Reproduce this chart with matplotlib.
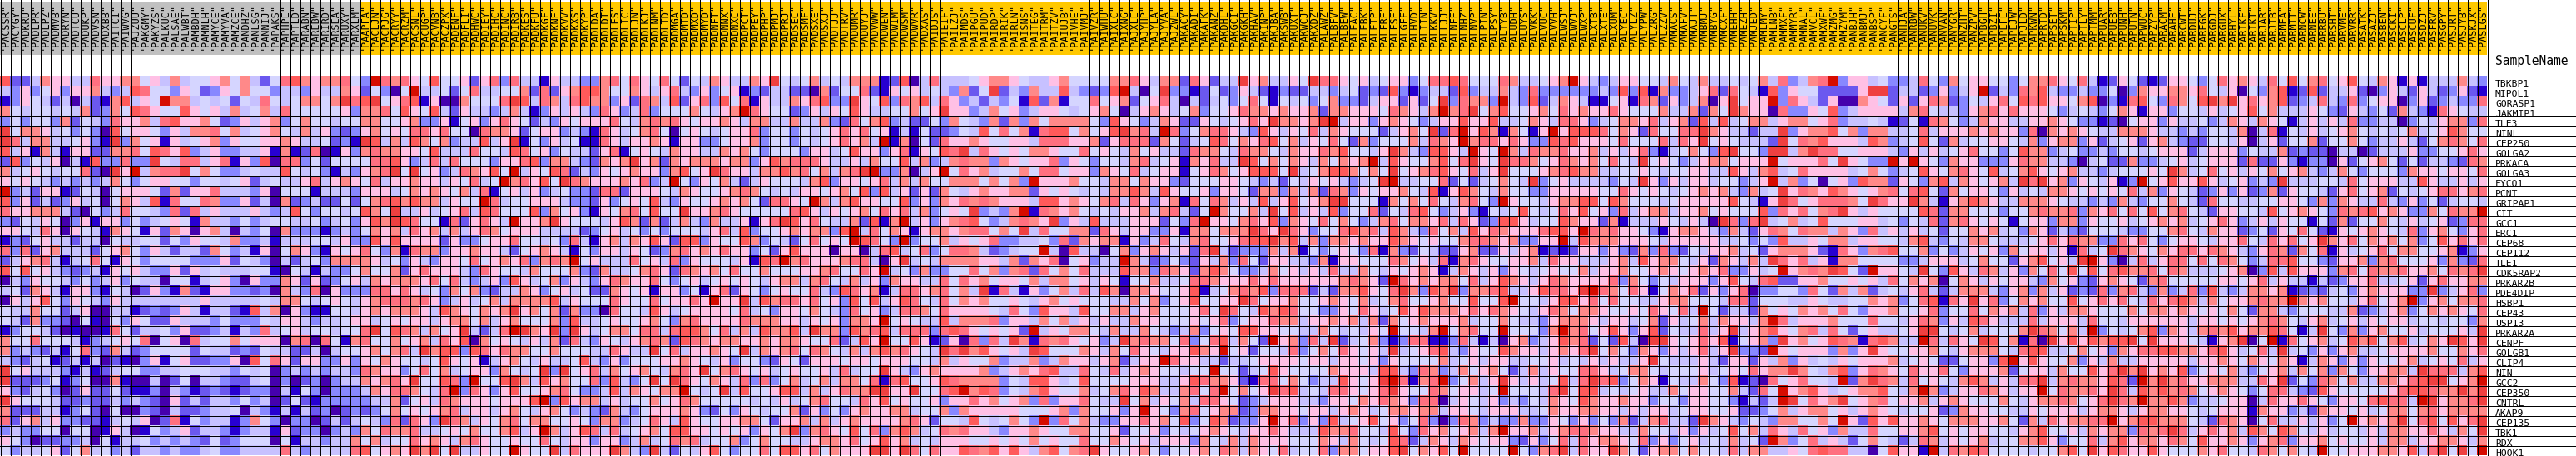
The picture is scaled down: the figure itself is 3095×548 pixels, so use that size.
#!/usr/bin/env python

"""
Heat map of centrosome / golgi genes across samples, drawn cell by cell.
Cell levels are read off the picture, one string per gene, one panel per block of samples.
"""

import matplotlib
matplotlib.use('Agg')
import numpy as np
import matplotlib.pyplot as plt
from matplotlib.colors import ListedColormap

LEVEL_COLORS = ['#4500AD', '#2700D1', '#6B58EF', '#8888FF', '#C7C1FF', '#D5D5FF',
                '#FFC0E5', '#FF8989', '#FF7080', '#FF5A5A', '#EF4040', '#D60C00']
GROUP_COLORS = ['#C0C0C0', '#FFC800']
N_GRAY = 36

GENES = ['TBKBP1', 'MIPOL1', 'GORASP1', 'JAKMIP1', 'TLE3', 'NINL', 'CEP250', 'GOLGA2', 'PRKACA',
         'GOLGA3', 'FYCO1', 'PCNT', 'GRIPAP1', 'CIT', 'GCC1', 'ERC1', 'CEP68', 'CEP112', 'TLE1',
         'CDK5RAP2', 'PRKAR2B', 'PDE4DIP', 'HSBP1', 'CEP43', 'USP13', 'PRKAR2A', 'CENPF', 'GOLGB1',
         'CLIP4', 'NIN', 'GCC2', 'CEP350', 'CNTRL', 'AKAP9', 'CEP135', 'TBK1', 'RDX', 'HOOK1']

SAMPLES = ('PACSSR PACYGY PADKRU PADLPR PADLPZ PADMVB PADRYN PADTCU PADUKP PADVSN PADXBB PAITCI PAIWVG '
           'PAJZUU PAKGMY PAKYZS PALKUC PALSAE PALWBT PAMBDH PAMNLH PAMYCE PAMYVA PAMZCE PANDHZ PANLSG '
           'PANNIJ PAPAKS PAPHPE PAPTLD PARABN PAREBW PARIRD PARSEA PARUXY PARXLM PAAPFA PACLJN PACPJG '
           'PACRYY PACRZM PACSNL PACUGP PACVNB PACZPX PADENF PADFLI PADHWC PADIEY PADIHC PADINC PADIRB '
           'PADKES PADKFU PADKGF PADKNE PADKVV PADKXS PADKYP PADLDA PADLDT PADLES PADLIC PADLJN PADLKJ '
           'PADLNM PADLTD PADMGA PADMTD PADMXD PADMYD PADNFT PADNNX PADNXC PADPCT PADPEY PADPHP PADPMJ '
           'PADPRJ PADSEC PADSMF PADSXE PADSXJ PADTJJ PADTRV PADUMR PADUYJ PADVWW PADWEN PADWIM PADWSM '
           'PADWVR PADXAS PAIDJS PAIEIF PAILZJ PAIMDS PAIPGU PAIPUD PAIRDP PAIRIK PAIRLN PAISNS PAITEG '
           'PAITRM PAITZV PAIUJB PAIVHE PAIVMJ PAIVZR PAIWHU PAIXLC PAIXNG PAJXLE PAJYHP PAJYLA PAJYVA '
           'PAJZWL PAKACY PAKADI PAKAFK PAKANZ PAKDHL PAKGCI PAKGKH PAKHAV PAKINP PAKJBA PAKSWB PAKUXT '
           'PAKWCJ PAKXDZ PALAWZ PALBFV PALBEW PALEAC PALEBK PALETP PALFRE PALFSE PALGFF PALHVD PALIIN '
           'PALKKV PALLJJ PALNFE PALNHZ PALNVP PALPIN PALPSY PALTYB PALUDH PALUYS PALVKK PALVUC PALVVH '
           'PALWSJ PALWVJ PALWXP PALXTB PALXTE PALXUM PALYEC PALYLZ PALYPW PALZRG PALZZV PAMACS PAMAFV '
           'PAMAJT PAMBMJ PAMBYG PAMCXF PAMEHH PAMEZH PAMJED PAMLMY PAMLNB PAMMXF PAMMYR PAMNAL PAMVCL '
           'PAMXWF PAMZMG PAMZYM PANBJH PANBMJ PANBSP PANCYF PANGTS PANHJA PANRBW PANUKV PANUVK PANVAN '
           'PANYGR PANZHT PANZPV PAPBGH PAPBZI PAPEFE PAPEJW PAPJLD PAPKWN PAPRTD PAPSET PAPSKM PAPTIP '
           'PAPTLY PAPTMM PAPUAR PAPUEB PAPUNH PAPUTN PAPWUC PAPZYP PARACM PARAHE PARCWT PARDUJ PAREGK '
           'PARGDJ PARGUX PARHYL PARIKF PARIKT PARJAR PARJTB PARMEA PARMTT PARNCW PARNEE PARRBU PARSHT '
           'PARVME PARVRR PASATK PASAZJ PASBEN PASCKI PASCLP PASCUF PASDZJ PASFRV PASGPY PASJRT PASJYB '
           'PASKJX PASLGS').split()

# one symbol per cell, index into LEVEL_COLORS (a=10, b=11)
PANEL_1 = [
    '9 2 2 4 7 6 6 4 4 8 6 6 7 7 5 6 4 7 4 5 5 6 7 5 7 4 2 5 8 9 7 6',
    '4 3 6 3 5 6 3 6 6 7 4 3 4 9 8 5 5 3 6 5 2 3 6 5 7 5 5 3 4 4 3 6',
    '1 3 6 5 4 2 4 0 4 2 1 7 9 4 6 5 b 7 7 4 5 4 5 2 5 4 8 5 4 5 7 7',
    '7 5 4 5 5 4 5 4 7 2 3 7 5 9 8 6 5 5 9 6 5 6 4 7 4 5 7 4 8 5 5 5',
    '3 5 3 5 5 3 7 2 5 4 3 8 6 6 7 4 8 9 6 6 7 5 2 3 6 4 6 7 3 5 7 5',
    'a 5 7 7 6 4 5 3 5 3 0 9 5 6 6 5 3 6 4 7 7 8 5 7 4 5 6 7 5 4 7 4',
    'a 8 4 7 7 4 4 5 6 3 1 a 3 7 5 6 1 6 4 5 6 7 3 6 5 5 6 6 7 6 4 4',
    '9 4 6 1 7 4 1 6 6 2 2 7 7 8 5 9 8 6 9 3 4 6 3 3 4 4 6 1 7 1 2 8',
    '2 9 3 5 4 6 0 4 1 9 3 3 8 3 3 a 5 4 8 8 4 6 8 1 6 3 9 0 8 8 3 5',
    '7 4 5 6 5 4 5 5 8 2 0 a 6 b 4 7 8 8 a 5 7 5 3 3 4 5 4 4 9 5 4 5',
    '6 5 6 5 4 3 4 3 4 3 4 7 5 3 5 6 6 5 5 3 5 5 4 5 6 2 4 5 4 4 6 8',
    'b 3 4 2 6 6 1 2 5 4 0 5 6 6 6 5 2 7 2 6 6 8 4 4 4 3 6 0 5 5 5 1',
    '9 3 6 2 4 2 3 6 4 5 0 5 7 6 4 9 1 8 5 5 8 7 3 3 6 2 4 0 7 2 3 4',
    '8 6 6 7 7 7 4 2 0 5 3 4 8 5 5 4 3 8 2 8 4 6 4 4 4 6 4 3 4 9 5 3',
    '3 2 5 4 6 5 0 3 6 1 6 6 3 5 3 4 5 6 5 1 7 4 4 3 5 3 4 5 5 4 4 5',
    '6 6 5 4 8 6 0 6 5 4 1 7 6 5 1 6 2 7 6 0 6 7 4 0 4 3 5 0 7 3 3 3',
    '1 3 2 5 6 4 4 2 4 4 0 5 4 4 5 5 2 5 3 6 5 5 4 7 3 3 4 1 4 4 4 5',
    '8 3 8 2 6 7 4 4 4 2 5 6 7 5 3 6 4 2 4 4 2 7 5 3 4 1 6 0 5 7 6 3',
    '2 4 6 7 8 4 1 4 5 8 5 1 6 5 3 5 5 5 5 3 3 3 6 2 5 4 3 0 4 2 4 5',
    '9 5 9 5 6 4 3 2 3 4 1 6 5 6 4 3 3 6 2 6 4 5 4 4 4 5 5 1 0 5 4 1',
    '0 4 3 6 5 5 4 3 5 3 4 6 3 5 4 4 0 5 5 1 4 5 6 3 0 6 3 3 7 6 2 6',
    '4 5 2 7 6 4 1 6 6 3 1 5 4 0 2 6 3 1 7 2 1 6 6 3 3 2 3 0 7 4 3 8',
    '0 6 4 6 9 5 3 6 5 4 3 6 4 4 4 4 4 4 4 4 6 4 4 4 4 4 5 4 7 7 5 4',
    '5 4 4 7 5 5 2 4 6 0 0 4 4 1 2 3 2 3 6 4 1 4 4 2 1 9 4 7 0 6 3 1',
    '5 4 2 7 3 3 2 0 5 1 0 5 3 6 5 2 2 6 4 4 4 3 5 3 3 3 5 4 6 6 4 3',
    '1 3 5 5 4 2 0 1 0 0 1 8 5 2 4 4 5 3 6 2 2 3 4 1 4 3 8 4 5 6 4 5',
    '7 5 5 8 5 5 5 4 1 3 4 5 6 5 8 0 5 6 0 8 4 5 5 7 5 6 6 6 0 7 8 0',
    '7 3 4 3 2 4 1 5 8 3 2 7 4 2 3 5 5 5 5 2 5 4 4 2 3 2 5 4 4 2 2 4',
    '4 3 2 4 5 1 2 4 1 4 0 2 1 0 3 6 1 5 6 2 2 3 3 6 0 9 5 8 6 2 6 6',
    'a 5 6 4 4 4 3 1 4 1 2 4 5 5 3 3 4 4 5 5 5 4 4 3 5 4 5 0 3 4 3 4',
    'a 2 2 2 3 5 1 3 5 0 0 7 1 0 0 4 0 2 5 0 4 4 3 2 2 4 5 0 3 0 2 3',
    '6 3 2 4 5 3 0 2 6 2 2 5 2 1 1 3 0 4 3 1 2 3 2 1 2 3 3 0 4 1 5 3',
    'a 6 5 5 5 4 2 2 3 2 2 4 3 4 3 2 0 6 2 4 2 4 4 3 5 3 4 0 2 5 2 1',
    '7 2 2 2 4 4 1 3 5 2 0 5 0 0 3 2 0 4 2 2 3 4 4 5 0 4 3 1 4 1 4 2',
    '8 2 6 7 4 6 3 3 2 2 1 4 5 4 6 0 2 8 1 5 3 4 4 1 3 7 5 3 0 3 3 0',
    '3 4 3 3 5 5 0 5 5 0 1 6 4 0 1 5 3 4 6 2 4 4 3 1 3 4 4 1 6 2 3 3',
    '6 5 3 0 2 2 3 3 4 0 5 1 4 4 5 3 4 3 4 3 2 5 2 3 5 5 5 0 5 1 4 4',
    '5 3 4 4 5 6 2 5 7 4 5 3 4 2 4 4 3 4 3 3 4 5 3 3 4 4 4 4 8 4 3 4',
]
PANEL_2 = [
    '7 7 8 5 3 b 8 7 8 6 5 9 5 5 6 2 6 8 3 8 4 4 1 6 4 4 3 3 7 8 5 8',
    '4 4 7 6 2 5 3 0 5 b 4 4 5 2 5 8 4 4 5 5 7 2 8 2 6 7 9 9 7 5 5 7',
    '5 7 a 8 9 a 5 6 8 9 1 6 0 0 7 5 5 5 8 a 9 4 8 7 4 8 9 7 7 3 6 2',
    '5 5 6 3 7 7 8 5 9 6 5 9 4 2 6 4 4 3 4 7 4 1 3 6 4 6 4 3 8 6 3 4',
    '5 4 5 5 7 7 5 5 6 7 3 3 6 1 5 6 3 6 8 6 5 2 4 3 6 5 6 6 6 8 5 4',
    '6 3 2 3 6 7 5 6 5 8 8 6 8 5 5 0 8 7 7 6 2 5 6 6 3 4 3 1 8 6 4 5',
    '5 2 3 1 a 9 4 7 4 9 7 5 7 3 4 4 9 4 6 a 1 5 3 6 4 5 1 1 8 6 4 6',
    '0 1 6 3 7 8 7 7 6 6 5 9 4 4 4 8 5 5 4 9 8 5 6 3 5 4 4 2 6 8 1 5',
    '2 5 5 5 5 8 8 9 6 3 4 8 4 8 5 5 5 3 6 6 8 9 3 7 7 4 3 2 7 6 7 a',
    '3 1 4 3 6 7 8 a 5 a 5 6 3 4 8 7 6 9 5 b 4 6 5 9 8 2 4 3 6 5 6 7',
    '4 6 7 6 5 8 4 6 6 7 6 6 4 6 5 8 4 5 b 7 8 6 9 5 a 8 7 6 6 6 7 6',
    '4 4 4 3 6 6 6 4 5 7 6 7 6 5 7 4 8 1 5 6 4 6 3 4 5 3 3 2 8 8 2 6',
    '2 2 5 2 5 7 8 9 7 9 7 7 4 6 5 5 b 8 4 5 5 6 6 6 4 3 3 2 6 3 5 6',
    '5 5 4 5 9 7 5 a 4 4 6 4 5 6 8 4 9 8 5 5 5 9 3 7 5 6 3 1 6 5 7 8',
    '3 4 5 3 6 9 7 a 9 8 5 5 1 8 2 6 8 6 4 b 6 6 7 a 6 5 5 5 4 6 9 7',
    '1 3 4 3 5 7 6 7 4 8 6 7 4 7 4 6 8 7 5 6 6 6 4 4 4 4 2 3 5 6 4 5',
    '5 4 6 3 3 9 6 9 6 6 6 6 2 6 3 3 5 6 6 8 5 5 4 5 3 8 4 1 6 7 4 7',
    '1 6 5 6 8 5 3 7 1 8 7 7 3 6 6 7 6 6 4 2 5 6 7 6 4 1 5 3 6 6 4 6',
    '3 7 7 7 7 6 4 5 3 6 4 3 6 6 5 8 5 6 7 6 8 3 7 8 7 b 5 6 4 4 4 8',
    '4 3 3 5 7 5 5 7 2 6 8 6 6 6 4 3 8 6 5 5 4 7 5 5 5 7 3 2 7 4 4 5',
    '2 3 5 6 4 7 6 7 7 7 6 8 5 8 4 3 4 6 3 9 6 4 5 7 3 6 4 3 6 8 7 6',
    '0 6 3 3 3 8 8 6 8 6 4 5 3 7 5 7 3 2 4 4 7 6 3 5 6 4 5 2 2 7 6 5',
    '5 6 5 4 6 7 8 8 8 7 8 6 3 4 6 4 5 7 4 7 7 7 7 9 4 6 5 5 5 8 6 5',
    '1 5 5 4 6 7 6 7 7 7 6 4 9 7 6 5 7 6 7 a 6 7 5 7 2 7 3 3 0 8 5 5',
    '4 4 5 6 6 4 5 6 5 6 6 4 6 7 7 5 7 4 6 7 5 5 5 7 3 9 4 4 5 6 5 5',
    '5 4 5 5 8 a 5 9 8 7 4 7 5 6 a 4 2 4 8 b a 7 6 a 3 a 6 4 5 7 7 5',
    '8 5 1 7 8 5 5 7 5 6 7 4 8 6 9 0 7 5 6 5 4 6 4 7 2 8 4 3 6 5 4 6',
    '0 4 5 5 6 7 5 7 8 4 a 7 9 9 3 9 8 6 8 7 7 5 5 7 5 5 5 4 4 8 6 4',
    '3 3 6 3 6 5 7 6 5 5 4 5 9 6 5 6 1 4 6 7 5 4 6 4 4 5 9 4 3 6 3 5',
    '3 4 4 3 8 7 6 6 3 5 8 5 7 4 5 6 6 3 7 5 4 5 a 3 a 5 6 8 4 7 5 6',
    '0 3 4 4 7 6 7 8 6 a 5 5 9 8 3 b 5 5 9 a 7 4 9 6 7 5 5 8 3 9 4 3',
    '0 3 3 3 4 7 6 8 8 7 5 4 8 b 3 8 6 3 6 9 5 5 6 7 8 5 3 3 4 9 4 7',
    '3 3 3 3 3 4 4 7 2 5 6 4 8 7 6 6 6 5 6 6 6 9 b 3 9 6 7 7 4 6 4 5',
    '3 0 2 3 2 3 5 7 5 6 5 6 7 8 4 6 6 4 6 7 5 4 6 7 5 3 4 3 2 7 4 3',
    '2 4 2 4 5 4 3 8 2 8 6 3 a 8 7 4 6 5 7 8 5 7 7 5 5 6 5 3 7 7 3 4',
    '0 3 4 3 7 5 8 7 7 8 4 4 5 6 5 7 5 5 7 9 4 6 b 7 4 6 9 8 4 8 4 5',
    '3 4 4 7 5 7 4 5 5 8 6 7 6 4 7 8 6 5 5 6 5 5 8 5 4 6 6 3 6 6 3 4',
    '5 4 4 8 9 5 6 7 6 a 7 a 5 a 4 4 6 5 5 b 6 5 5 a 4 8 6 6 6 a 7 4',
]
PANEL_3 = [
    '6 5 8 5 2 5 4 7 6 4 4 7 6 a 5 4 5 7 4 5 4 7 7 7 1 2 9 0 4 8 4 4',
    '6 4 6 8 4 3 6 3 5 6 1 3 2 4 4 2 2 0 7 2 5 5 8 2 1 6 5 6 4 5 4 3',
    '8 7 4 9 2 6 8 3 9 5 8 1 6 4 4 7 6 8 9 3 3 a 6 5 9 3 8 7 9 4 8 6',
    '8 3 5 5 5 7 5 4 6 7 b 8 6 5 5 2 3 6 4 6 5 9 6 4 4 5 5 7 5 6 a 6',
    '7 8 7 8 6 5 6 6 7 6 4 7 7 4 4 7 4 4 7 3 2 8 5 7 9 3 4 2 2 5 3 7',
    '7 8 5 0 5 6 5 4 5 6 6 8 3 5 5 3 5 4 5 6 8 6 8 5 6 1 4 1 5 2 2 3',
    '6 7 6 1 6 6 3 3 5 6 6 7 3 5 5 3 5 4 5 6 8 6 7 4 b 1 7 0 5 2 8 6',
    '6 5 4 7 6 6 4 4 7 6 7 5 3 5 5 5 3 6 6 4 5 9 6 6 3 6 8 1 6 5 9 8',
    '6 7 2 7 6 7 7 7 6 7 7 3 6 9 7 8 8 8 6 4 4 6 4 7 5 5 9 4 7 3 4 7',
    '6 6 3 7 9 5 6 a 8 6 6 4 7 7 9 7 8 5 7 4 7 8 a b 3 3 7 0 4 6 b 5',
    '8 3 4 b 5 3 6 5 7 4 2 4 6 5 5 5 4 7 9 3 6 6 5 6 8 4 7 4 7 5 5 7',
    '6 6 5 4 7 6 5 5 6 7 8 7 5 4 5 4 6 6 5 6 7 5 9 3 9 4 6 2 6 2 7 5',
    '5 9 4 3 6 5 5 6 7 6 7 5 2 8 8 6 5 b 7 4 7 9 6 6 5 5 9 3 6 3 7 6',
    '5 9 5 5 a 6 6 7 8 6 5 5 5 5 5 8 9 6 4 6 5 6 7 5 8 6 8 4 7 3 5 6',
    '2 7 2 4 7 4 3 7 4 4 6 1 6 8 a 9 6 8 5 4 4 7 2 9 1 7 b 4 6 3 6 7',
    '3 5 3 5 5 5 4 6 8 4 9 3 5 5 6 7 6 7 7 3 9 b 4 8 5 7 6 1 6 7 7 6',
    '6 9 6 2 9 9 3 6 5 5 9 7 3 5 4 2 5 8 5 6 5 b 9 8 5 3 b 3 5 5 7 4',
    '5 2 3 7 8 6 7 6 8 6 6 3 5 2 6 9 6 6 6 0 6 6 0 4 8 9 4 5 8 3 5 8',
    '5 6 4 8 3 6 5 5 5 4 6 1 9 8 b 7 8 6 6 6 7 8 8 4 0 6 a 4 5 4 7 7',
    '7 8 6 2 8 7 6 7 5 8 5 5 7 5 5 5 6 6 7 8 5 5 8 6 b 4 5 3 7 3 3 5',
    '6 8 5 3 5 6 4 5 6 5 6 5 4 6 7 7 4 7 8 5 4 7 4 6 3 7 6 6 4 4 8 5',
    '6 1 6 6 3 5 1 6 8 2 6 5 3 5 6 5 5 8 4 3 9 8 6 7 1 4 8 8 6 7 8 5',
    '5 8 5 6 6 8 6 b 6 6 a 4 9 7 8 8 6 8 5 6 3 9 5 9 4 6 9 8 5 4 8 5',
    '4 9 6 4 5 6 6 6 6 5 8 4 5 3 6 6 5 7 5 4 3 8 5 6 3 4 8 8 7 5 8 6',
    '6 7 5 3 7 8 6 6 6 6 8 7 7 7 6 6 4 6 5 6 3 7 7 6 b 5 6 5 4 4 9 4',
    '8 8 4 8 9 9 7 5 8 4 7 4 9 7 7 9 4 a 7 7 3 9 7 8 9 4 8 8 8 3 8 9',
    '7 8 7 2 9 8 7 6 7 7 6 6 7 6 7 7 6 5 5 8 2 4 9 6 b 5 5 9 6 1 2 6',
    '4 a 5 8 4 6 6 7 6 5 a 4 7 6 7 8 5 8 7 5 4 7 4 7 9 7 8 6 5 4 a 8',
    '5 5 6 6 7 6 5 4 6 3 5 5 3 2 6 5 2 6 6 6 5 6 6 5 6 6 6 5 5 4 7 4',
    '7 5 4 7 8 6 a 5 7 8 6 5 6 4 5 6 5 5 6 4 8 4 5 5 a 6 4 3 6 7 6 6',
    '5 a 5 a 8 6 5 7 6 4 8 3 8 3 5 7 4 5 7 4 7 7 5 8 1 8 9 5 5 6 9 8',
    '6 5 7 7 b 5 4 5 a 4 9 5 5 6 9 9 4 7 4 6 8 7 7 a a 6 6 a 5 5 8 9',
    '5 7 5 6 8 7 5 5 5 5 5 4 5 4 6 4 5 7 8 5 5 4 8 6 9 5 6 5 5 6 3 6',
    '5 6 6 6 7 6 3 2 5 3 6 5 4 5 5 7 2 6 3 5 3 6 7 6 6 7 7 4 5 5 7 3',
    '5 8 6 4 9 6 5 5 6 6 7 7 5 2 6 6 7 4 7 4 6 7 6 6 6 6 7 8 6 2 5 5',
    '6 7 5 9 9 6 6 5 6 5 6 3 6 5 7 a 3 7 8 6 5 9 5 8 3 7 9 7 4 5 8 7',
    '7 4 5 8 7 8 4 5 5 7 3 5 7 5 5 4 4 6 7 7 6 8 5 6 9 6 7 4 5 4 6 6',
    '3 a 4 2 5 4 6 9 5 3 5 5 8 5 9 9 6 8 5 7 6 6 6 a a 6 a 8 5 8 6 6',
]
PANEL_4 = [
    '4 5 6 7 7 6 5 4 4 6 7 5 5 5 5 7 7 8 6 4 7 7 2 8 6 2 4 4 a 6 7 4',
    '7 2 5 a 2 4 3 7 4 4 9 4 3 2 3 9 b 4 0 5 a 3 3 1 2 5 2 3 6 4 2 1',
    '3 4 2 4 3 5 1 9 2 7 1 5 5 8 5 6 7 2 5 6 8 4 0 4 2 4 5 3 5 8 5 1',
    '6 3 4 7 5 6 3 4 6 6 5 4 5 6 7 5 0 4 6 7 6 4 5 7 3 5 5 6 8 7 7 6',
    '5 4 3 7 2 7 3 7 5 7 7 7 7 5 3 9 6 5 3 4 7 6 2 2 6 5 4 5 6 8 6 a',
    '5 4 9 5 8 5 7 1 8 9 9 5 7 5 6 9 a 7 8 4 b 8 3 5 7 8 8 6 4 3 9 6',
    '6 7 6 5 5 6 6 4 8 8 8 6 6 7 2 6 8 8 8 2 7 5 2 4 5 9 8 5 7 6 8 9',
    'a 4 8 6 5 6 5 7 7 6 5 5 8 5 6 5 4 7 5 6 4 4 2 8 7 7 5 4 8 7 7 5',
    '8 7 7 3 7 6 5 6 6 8 3 6 5 3 5 5 4 7 8 4 5 6 1 7 6 8 4 4 a 9 5 7',
    '8 6 7 4 5 5 7 5 8 8 5 6 6 3 7 6 5 8 4 5 6 6 1 5 6 8 7 5 6 9 9 9',
    '7 7 5 7 5 7 3 b 6 6 6 7 5 5 4 7 7 5 7 6 6 3 2 5 5 5 6 6 5 4 3 4',
    '4 6 7 6 6 7 7 2 6 5 6 5 4 5 4 7 7 9 7 4 9 6 5 5 6 3 6 6 5 2 7 7',
    '8 7 8 7 6 6 6 4 9 9 6 7 6 5 7 8 4 8 6 3 6 7 1 8 5 8 7 4 6 4 9 4',
    '5 a 3 4 3 7 b 1 8 7 6 7 5 4 5 4 6 6 7 4 7 8 4 2 5 b 7 5 5 7 4 a',
    '8 9 5 3 4 7 8 7 6 a 3 6 4 9 4 4 4 6 6 6 2 5 3 8 b 6 6 5 7 8 6 9',
    '7 8 8 5 7 5 a 4 8 5 5 7 7 2 8 6 4 6 6 3 3 6 1 7 7 5 7 7 7 a 8 6',
    '6 5 6 8 3 3 4 4 5 3 8 2 7 6 7 7 1 6 3 4 8 5 4 7 8 5 5 6 8 9 9 a',
    '8 7 4 2 3 4 5 5 b 4 0 9 4 4 0 5 7 3 6 7 6 4 6 2 8 a 4 2 3 3 3 7',
    '7 7 6 6 4 7 2 7 6 8 0 5 6 3 4 4 b 7 4 2 3 5 3 2 6 4 7 3 8 5 2 6',
    '5 8 5 7 3 7 8 2 8 5 7 5 8 4 4 4 9 7 7 3 8 7 6 2 7 9 7 5 3 3 4 7',
    '8 6 7 5 6 6 5 7 4 7 7 5 6 4 6 5 1 5 5 7 4 4 5 8 8 7 6 6 6 8 6 8',
    '7 4 a 1 8 4 1 6 3 5 7 4 8 4 9 7 0 7 7 6 5 5 6 9 1 4 5 7 8 7 9 3',
    '7 6 7 5 5 6 5 4 6 7 5 6 5 5 5 4 4 7 5 7 3 5 6 9 5 5 6 6 a 8 5 6',
    '6 6 6 5 4 8 5 3 9 6 6 4 9 5 5 7 7 4 6 7 5 5 5 6 8 5 a 8 5 4 9 7',
    '7 7 7 8 3 6 6 4 7 5 7 4 6 4 6 4 4 7 6 6 5 5 5 6 5 6 8 3 5 6 6 8',
    '8 6 5 6 5 6 2 b 4 6 5 7 7 5 4 7 4 4 7 5 4 3 4 7 3 5 6 5 9 9 6 6',
    '0 8 3 8 4 a 7 1 8 7 8 6 5 6 3 4 a 7 8 7 7 5 8 3 5 8 9 4 7 5 2 b',
    'a 7 9 6 5 6 4 a 9 5 5 5 7 6 4 7 5 8 6 5 4 6 6 9 7 6 b 5 6 2 5 5',
    '6 5 5 7 3 4 4 7 3 4 7 6 6 4 6 7 2 4 6 6 b 8 6 6 4 4 2 4 4 5 6 6',
    '6 6 7 3 4 6 7 6 8 9 4 4 8 5 4 8 4 6 7 6 5 5 4 5 5 b 5 5 2 4 5 9',
    '7 7 7 7 3 5 4 9 9 6 4 5 9 5 5 5 5 6 6 6 4 4 6 9 8 7 7 6 2 1 8 8',
    'b 7 9 8 3 5 4 7 9 6 5 5 7 4 5 7 8 6 9 7 4 4 7 8 5 8 b 5 7 5 6 a',
    '6 8 6 7 5 6 7 3 8 3 6 6 8 5 4 4 a 5 7 4 6 5 7 4 8 8 6 5 2 3 4 6',
    '7 6 6 6 6 6 5 5 5 6 7 3 7 5 5 6 3 6 b 6 5 3 7 8 5 6 7 7 2 3 7 7',
    '4 9 5 4 5 7 5 3 b 3 8 5 7 4 3 3 6 6 8 6 7 5 9 3 5 9 7 2 3 3 6 b',
    '8 6 6 4 3 6 6 7 6 5 5 7 7 5 5 6 2 5 5 6 3 5 4 5 6 7 6 5 4 6 6 8',
    '6 5 5 6 5 6 5 7 5 6 5 5 8 5 5 7 6 5 6 4 6 6 6 3 7 5 4 7 4 7 6 6',
    '9 8 7 9 6 9 6 4 7 9 5 7 8 a 6 5 5 6 7 5 3 5 5 6 7 5 8 7 4 7 6 5',
]
PANEL_5 = [
    '4 6 5 a 8 8 6 5 6 4 5 6 6 3 5 8 8 9 8 5 5 5 8 7 4 4 5 6 7 b 6 4',
    '3 2 2 4 4 3 4 5 2 3 2 9 3 1 3 4 4 2 9 3 4 4 7 4 3 8 3 3 3 3 3 3',
    '5 4 5 3 5 7 3 3 2 4 6 6 2 6 2 5 a 3 8 7 7 3 b 4 3 9 2 4 7 6 4 1',
    '7 6 6 7 2 7 7 6 6 6 5 8 7 6 4 7 b 7 8 a 5 7 9 5 5 6 7 5 8 6 7 6',
    '7 7 6 7 a b 4 6 6 3 6 7 6 5 3 4 6 6 9 6 6 9 4 4 5 7 6 4 8 8 6 3',
    '4 6 5 8 4 7 6 5 5 5 2 4 6 7 5 a 2 8 b 6 9 7 1 7 5 1 6 b 6 9 9 9',
    '5 7 4 6 5 8 5 2 7 3 5 5 5 7 4 8 7 6 b 7 8 8 6 8 6 3 3 9 8 9 6 6',
    '4 7 6 6 8 7 9 5 5 4 6 a 7 4 3 9 9 6 4 b 6 5 b 7 4 8 7 7 8 6 6 7',
    '5 7 6 4 7 5 7 6 7 b 4 9 6 5 5 7 9 5 8 a 6 5 a 8 8 7 5 6 8 7 6 7',
    '5 a 4 5 7 9 9 7 5 7 5 a 5 6 7 8 9 6 5 8 4 6 a 5 5 5 6 7 8 9 7 7',
    '2 5 4 6 5 6 4 3 4 5 a b 4 4 5 5 8 2 5 2 4 5 7 5 4 a 3 5 6 4 4 4',
    '3 7 4 7 2 8 7 3 6 5 6 6 7 5 4 9 1 6 9 7 5 4 7 5 5 3 3 6 6 6 6 6',
    '6 9 5 6 7 a a 5 5 5 1 7 5 7 5 8 5 4 7 8 5 3 b 6 5 5 4 6 7 7 9 9',
    '5 9 4 6 4 9 3 5 5 8 2 5 4 8 9 5 3 4 6 3 1 5 4 5 9 5 4 5 8 6 9 5',
    '3 7 6 5 8 5 7 5 3 4 7 8 5 7 7 6 8 4 8 6 2 3 9 9 6 4 5 5 9 7 6 6',
    'a 8 6 3 5 5 8 9 7 8 4 9 7 4 3 8 5 7 4 9 6 8 7 6 6 6 8 9 9 6 b 8',
    '7 9 4 7 3 7 7 6 7 6 6 9 7 6 5 6 5 5 7 8 8 7 6 7 3 3 6 6 b 4 9 7',
    '4 7 1 5 3 5 6 5 3 8 1 7 3 2 5 4 2 2 6 7 2 2 6 4 6 7 1 2 1 2 6 6',
    '6 4 4 3 7 1 6 6 5 5 5 8 7 5 6 4 8 1 7 8 6 5 5 6 6 7 4 8 6 6 4 4',
    '5 6 4 6 4 8 4 4 7 5 4 6 5 6 7 6 1 4 7 6 4 6 3 6 5 4 5 6 5 5 7 4',
    '6 6 6 6 6 6 7 8 7 6 2 b 8 6 7 6 7 7 5 8 4 6 9 7 6 4 6 8 7 6 6 6',
    '8 8 8 2 4 2 7 7 9 6 5 8 a 7 3 9 7 a 3 7 7 8 9 4 4 6 9 8 8 6 a b',
    '6 7 5 5 6 7 6 5 7 4 5 7 8 5 5 6 7 5 5 9 5 5 9 b 5 5 4 6 9 9 6 8',
    '9 8 5 5 3 3 6 5 8 6 4 5 9 6 9 7 7 7 6 8 6 8 7 6 5 4 6 8 7 5 7 7',
    '7 7 4 6 6 7 6 7 4 7 2 7 5 6 7 6 6 6 7 4 5 5 7 5 4 4 3 6 7 7 7 6',
    '5 5 4 4 7 5 4 5 4 6 5 b 5 5 4 7 b 5 7 8 5 5 b 5 5 5 3 7 b 7 8 5',
    '6 7 3 8 4 a 2 4 5 7 3 1 3 8 8 1 1 3 8 4 1 4 0 6 7 3 4 6 9 7 8 2',
    '4 8 3 5 7 5 8 6 5 6 4 a 4 5 6 8 9 4 3 6 5 5 9 7 6 6 4 6 7 6 8 a',
    '6 6 5 6 6 4 6 6 5 6 3 6 5 5 5 5 7 4 5 6 4 6 6 4 4 5 5 6 4 5 4 6',
    '6 5 5 5 5 7 6 6 6 4 9 9 4 3 8 7 3 4 7 5 6 7 5 2 4 7 4 6 5 5 8 8',
    '5 7 5 3 4 4 9 6 5 6 a b 8 1 7 8 b 3 5 7 4 6 a 6 4 6 4 5 9 4 8 a',
    '8 9 4 5 4 8 8 6 5 6 8 a 6 5 5 8 7 5 6 6 4 5 b 5 5 5 4 8 a 5 9 9',
    '6 6 4 4 3 6 6 5 7 6 8 7 6 3 8 8 0 4 6 5 4 6 3 4 3 5 4 7 6 5 9 7',
    '6 6 5 6 6 4 6 7 6 4 5 7 7 6 7 7 4 6 6 5 4 6 6 6 4 4 5 7 6 6 7 7',
    '6 8 3 6 3 9 4 5 6 9 5 6 3 5 8 3 0 3 8 7 3 4 3 3 7 3 3 6 5 3 6 3',
    '6 4 4 4 9 7 7 8 5 5 4 9 5 3 8 6 7 5 6 7 4 7 b 6 6 7 4 6 7 8 8 7',
    '6 5 5 5 7 6 4 7 5 4 5 9 8 2 4 7 6 4 7 6 5 6 6 3 2 6 3 5 8 4 8 6',
    '8 4 5 5 8 3 7 7 5 6 6 9 a 5 7 6 9 5 b 5 5 5 5 b 5 3 7 8 a 4 8 6',
]
PANEL_6 = [
    '3 4 6 6 5 5 4 7 5 4 7 4 4 5 4 5 7 4 8 3 4 7 8 b 3 6 6 4 5 3 3 4',
    '4 3 9 3 9 1 7 3 3 4 6 8 2 8 5 4 1 9 3 6 5 5 2 2 2 2 6 a a 2 4 4',
    '1 5 6 1 8 7 2 6 3 4 7 0 6 a 5 6 6 b 3 8 6 4 2 6 0 0 7 6 5 2 6 2',
    '6 8 6 5 5 5 7 4 4 7 2 7 5 a 7 6 6 0 8 3 3 6 5 9 3 4 6 6 6 6 4 7',
    '4 5 7 7 6 8 4 6 7 2 9 4 9 4 5 7 7 4 6 7 7 5 6 8 3 4 4 5 4 1 2 5',
    '8 5 7 6 2 8 5 5 8 8 a 7 6 4 4 2 4 4 a 3 6 7 7 9 5 7 3 7 7 4 4 5',
    '6 5 8 5 5 5 8 4 8 6 a 5 6 5 4 4 4 2 a 5 8 7 9 6 6 6 4 9 7 3 4 5',
    '4 6 4 6 8 3 1 4 5 7 5 3 9 a 5 5 3 a a 4 7 a 8 8 5 5 6 6 6 4 3 6',
    '5 8 5 4 a 5 6 5 3 4 6 7 7 5 6 6 6 b 5 6 6 6 8 5 a 6 5 3 3 b 6 b',
    '4 4 5 5 6 5 4 5 5 6 6 4 4 9 6 4 7 9 4 5 8 6 6 6 6 4 5 7 5 3 4 5',
    '4 3 5 4 a 6 3 6 4 6 6 4 5 5 3 4 6 b 4 7 3 5 0 5 6 3 9 7 7 2 6 5',
    '5 5 8 6 5 6 5 4 5 6 7 6 7 4 3 7 4 5 a 6 8 7 6 9 7 6 5 6 7 8 5 8',
    '5 9 7 5 5 5 4 5 6 6 6 6 6 9 5 4 1 6 a 8 5 6 8 8 8 7 5 a 8 6 6 a',
    '6 3 8 4 6 7 7 4 6 6 7 5 6 5 5 5 9 3 8 6 8 5 7 8 a 6 4 6 5 5 5 5',
    '2 7 1 4 4 4 6 5 4 6 4 0 a 8 3 8 a 4 5 7 4 5 9 5 5 5 6 6 4 5 3 5',
    '7 8 6 6 5 3 1 6 7 7 6 4 3 7 4 2 6 8 7 5 8 7 7 4 7 6 3 8 4 6 4 6',
    '7 7 6 6 6 5 4 6 6 6 6 6 4 4 5 3 5 3 9 4 4 6 5 7 7 4 6 6 5 5 4 7',
    '3 6 3 2 7 3 8 3 2 5 4 6 6 7 4 5 2 6 7 7 7 6 2 1 8 6 3 7 8 9 5 5',
    '4 6 7 4 9 6 7 7 5 4 6 2 7 6 4 7 4 a 8 6 8 4 6 1 7 7 5 5 5 5 3 3',
    '6 6 7 5 5 6 7 6 5 6 7 6 8 3 3 6 4 5 b 6 7 8 7 a 9 5 2 b 6 6 5 4',
    '6 8 3 7 5 3 5 4 6 6 6 3 6 9 5 4 8 9 2 2 6 6 7 5 5 6 5 6 4 8 5 7',
    '8 7 5 8 6 1 5 7 6 8 2 6 3 6 8 0 3 3 5 5 3 8 5 2 7 4 7 2 4 5 4 6',
    '5 8 5 5 4 4 6 7 7 5 5 5 4 8 8 2 5 5 5 4 4 6 5 4 4 5 5 7 6 7 3 5',
    '6 5 5 6 5 8 6 5 8 4 b 5 2 4 4 2 7 5 6 5 7 6 7 5 8 5 3 6 6 7 5 5',
    '4 6 6 4 5 7 2 6 4 5 7 4 7 6 6 4 7 b 8 4 6 6 6 7 5 5 5 8 5 5 4 6',
    '6 9 6 3 6 9 2 5 4 4 8 4 6 a 4 6 7 9 6 5 7 8 4 8 5 2 5 6 4 4 5 6',
    '5 2 9 4 0 a a 6 5 6 8 6 9 1 5 6 7 3 a 6 7 5 6 9 8 7 1 8 9 7 4 4',
    '5 7 5 3 7 6 3 6 4 6 8 4 6 a 3 3 2 b 6 5 6 6 6 3 7 3 6 a 6 5 5 6',
    '4 6 4 4 6 a 5 4 4 4 6 4 2 6 6 2 6 4 7 3 6 4 5 4 6 5 6 6 6 7 4 5',
    '6 4 5 7 7 5 4 5 5 5 6 4 5 6 5 8 6 7 7 a 7 5 4 7 9 3 6 8 7 6 5 8',
    '8 9 3 5 7 6 1 5 4 4 7 5 3 9 1 2 0 8 5 6 8 5 5 4 b 2 7 a 8 7 4 8',
    '4 5 4 5 6 4 4 7 5 6 6 5 5 7 4 2 8 5 b 6 7 9 6 4 5 6 7 7 9 5 4 7',
    '6 6 7 6 6 3 5 5 3 6 6 5 5 3 1 4 2 4 b a 5 8 6 7 a 5 6 7 8 5 6 6',
    '6 6 4 6 4 6 6 4 5 6 6 5 5 6 2 2 3 5 7 4 6 7 7 5 6 4 6 7 6 5 4 5',
    '5 3 7 2 4 7 8 4 4 2 a 7 6 4 3 5 4 3 7 7 5 5 7 5 b 6 2 9 6 9 6 6',
    '6 6 4 4 7 5 5 4 6 3 6 4 5 9 5 7 4 8 6 4 8 5 6 3 7 4 4 8 5 5 6 6',
    '7 7 6 5 8 3 6 3 5 6 4 5 4 7 4 5 2 b 7 3 5 8 4 6 4 2 5 7 5 4 2 4',
    '6 a 7 5 2 6 7 7 5 7 5 5 4 8 4 7 7 4 4 6 5 8 9 8 8 4 4 0 5 9 6 6',
]
PANEL_7 = [
    '8 5 3 7 5 6 6 5 5 3 5 7 7 8 6 5 8 4 1 2 6 5 2 1 2 6 6 5 3 5 8 6',
    '2 3 6 3 4 6 b 2 4 3 8 7 9 4 3 3 4 3 3 5 0 3 7 6 6 7 7 6 8 5 4 6',
    '6 8 7 2 3 5 4 6 8 5 9 8 9 6 6 5 7 9 0 3 1 8 9 5 3 8 7 5 9 a 7 a',
    '8 5 4 4 3 6 7 8 6 8 6 6 6 5 3 4 5 4 3 5 7 6 1 6 6 3 5 5 4 6 4 5',
    '1 8 7 5 3 4 7 6 6 4 4 6 6 7 6 5 3 3 1 2 0 5 6 6 3 6 4 4 5 3 4 7',
    '8 4 6 6 6 7 6 7 6 6 3 8 0 7 6 7 6 5 4 4 7 7 7 6 4 4 3 4 3 5 5 4',
    '9 5 2 7 4 5 5 6 6 5 4 7 3 6 7 7 3 6 2 4 5 6 2 6 7 4 3 2 2 5 5 4',
    '4 6 4 5 6 8 5 5 3 5 9 7 7 3 4 5 3 3 4 3 5 5 4 5 6 6 6 2 4 6 6 6',
    '6 5 3 7 6 6 3 3 3 6 8 7 7 4 4 3 0 4 5 2 2 7 3 3 4 5 6 4 5 6 6 6',
    '9 6 5 7 8 6 5 9 4 5 7 9 6 5 6 7 4 4 3 4 5 5 5 6 5 a 7 4 5 8 5 6',
    '3 7 9 4 7 6 5 6 7 4 a 8 a 6 7 3 6 5 4 6 1 3 b 5 6 9 6 6 9 6 4 5',
    '9 5 2 7 5 6 6 5 3 6 4 5 4 7 7 6 5 6 5 6 5 8 4 7 3 6 5 4 2 3 6 3',
    '7 4 1 6 7 9 7 6 4 4 7 7 7 6 5 4 4 3 4 3 7 4 3 5 5 7 5 4 2 8 5 5',
    '9 8 2 7 7 5 5 5 3 5 5 7 8 7 7 8 3 7 6 8 5 8 5 9 5 7 8 5 4 2 6 6',
    '4 8 2 7 8 6 5 6 5 1 5 6 6 3 7 7 3 6 5 5 6 4 5 6 7 6 7 4 5 6 8 6',
    '4 5 2 5 5 7 6 7 4 5 3 7 6 2 4 3 2 5 5 5 4 3 3 5 5 7 8 5 4 7 6 6',
    '9 4 3 5 4 7 7 5 4 4 4 5 6 8 6 8 7 7 3 3 8 6 8 5 3 5 6 6 5 4 6 6',
    '7 3 5 3 4 6 5 6 3 7 5 6 6 4 6 1 8 4 5 a 8 7 6 5 7 6 8 8 6 8 7 6',
    '4 6 6 6 4 5 7 5 5 2 6 7 9 5 6 4 a b 6 3 0 4 8 4 6 8 8 5 8 5 8 7',
    'a 5 3 9 6 4 8 7 4 6 3 7 5 8 5 9 5 9 5 8 9 7 7 8 5 8 7 4 4 4 5 6',
    '6 7 0 5 7 6 4 6 5 6 6 4 3 7 5 6 3 2 6 7 6 5 2 7 8 5 5 5 5 5 6 6',
    '8 4 2 4 7 7 7 4 3 6 7 3 7 4 6 2 3 2 8 3 7 8 4 3 7 3 4 8 3 9 4 3',
    '8 9 1 8 6 a 6 8 3 5 7 6 7 5 5 9 5 6 8 6 8 5 4 8 6 8 9 7 4 7 5 6',
    '6 8 3 5 5 8 5 7 6 7 4 8 3 6 4 7 7 6 5 5 5 7 5 7 7 6 7 6 5 6 5 7',
    '8 7 3 6 4 9 8 6 4 4 4 8 4 6 6 6 4 8 5 5 4 6 6 6 6 6 6 4 6 6 5 6',
    'a a 5 4 5 7 4 5 5 5 7 a 8 7 5 7 4 b 3 5 4 5 7 9 3 7 6 4 7 8 7 9',
    'b 8 4 8 6 5 a 9 5 7 1 8 0 a 6 9 6 9 7 9 9 a 5 a 6 6 6 5 4 1 6 7',
    '6 7 5 4 6 7 7 7 5 4 8 9 9 4 4 5 7 5 6 3 7 6 8 8 9 9 7 7 6 8 9 6',
    '6 5 2 2 5 6 6 3 9 b 6 9 6 5 5 7 3 6 4 7 4 4 6 6 6 6 6 4 6 6 7 6',
    '6 6 8 5 3 6 6 6 7 2 5 6 6 4 7 5 5 9 6 8 a 7 a 6 7 6 9 3 5 6 5 7',
    '5 6 5 4 7 9 7 4 6 4 8 8 a 4 7 8 7 7 6 9 8 2 b 7 a 7 8 6 6 7 7 7',
    'b 7 3 4 6 6 8 7 6 4 6 6 b 5 8 7 7 8 6 a 8 4 9 7 9 7 8 7 5 6 7 6',
    '7 4 6 7 6 5 5 5 7 5 4 6 7 7 8 7 5 6 8 a 8 7 b 7 7 9 7 3 4 4 5 6',
    '5 6 2 3 7 6 6 5 5 4 4 6 5 6 6 6 4 6 7 7 6 4 6 7 7 6 6 5 4 5 6 6',
    '7 6 5 7 7 7 6 6 7 5 2 7 4 8 6 7 7 8 8 b 6 7 9 9 7 7 7 5 4 2 8 7',
    '7 9 5 6 5 6 6 5 5 4 6 7 9 5 5 6 4 7 6 7 7 3 8 7 8 a 8 4 6 8 6 7',
    '8 7 4 6 5 6 7 4 5 5 7 7 9 6 3 5 5 8 4 7 9 6 7 7 6 8 7 5 9 6 6 7',
    '1 b 4 8 7 9 8 5 5 5 5 4 5 5 7 9 5 a 6 9 8 6 6 9 6 5 5 5 7 6 8 5',
]
PANEL_8 = [
    '7 6 4 8 5 9 5 7 8 5 6 9 5 4 7 6 1 6 1 4 4 4 7 4 3',
    '0 5 3 7 9 1 2 9 2 4 4 6 2 0 3 6 4 2 6 4 2 3 6 2 1',
    '6 8 6 7 9 2 3 4 8 4 3 8 3 5 6 6 0 3 6 2 3 4 3 3 8',
    '6 9 5 7 4 4 4 6 5 3 2 6 4 3 5 2 7 4 3 1 8 6 5 4 4',
    '6 4 7 6 5 1 4 6 4 6 4 8 3 3 4 4 0 3 5 4 6 7 7 3 8',
    '7 0 4 8 1 5 4 6 4 5 6 7 5 4 5 4 5 7 4 5 6 9 7 5 5',
    '6 0 4 6 2 5 5 7 2 5 5 7 5 3 4 4 6 4 2 5 7 8 7 5 8',
    '3 5 4 4 7 2 3 2 2 0 4 4 0 2 4 4 4 6 3 3 5 5 6 8 6',
    '2 8 2 2 6 3 1 3 3 0 6 2 5 6 7 5 2 5 2 4 4 3 2 8 7',
    '4 6 5 7 5 6 7 4 3 4 7 5 3 5 5 5 3 7 6 6 5 6 6 5 8',
    '6 3 4 3 a 4 4 4 5 5 4 8 5 6 6 6 4 4 9 6 4 4 6 4 6',
    '6 2 3 7 2 6 5 5 4 2 6 8 5 6 7 2 5 4 5 6 8 8 6 7 8',
    '4 4 5 5 6 6 5 3 7 3 7 6 4 4 8 4 3 6 3 5 2 4 5 5 4',
    '5 5 4 9 5 6 7 6 5 3 8 7 8 9 6 7 6 3 3 7 5 8 7 7 b',
    '3 4 6 4 6 5 5 1 5 2 7 2 5 5 7 5 4 6 4 5 6 2 3 8 8',
    '2 3 5 2 6 5 8 5 2 1 6 5 6 7 6 5 4 8 3 6 7 5 3 6 8',
    '8 5 4 8 6 8 5 6 a 7 6 8 5 7 6 7 5 7 3 5 9 6 8 6 8',
    '4 3 6 8 7 2 7 5 8 1 6 4 5 6 8 5 7 7 5 5 6 7 1 3 6',
    '5 3 4 8 8 9 5 5 3 2 6 6 7 3 7 8 5 5 5 6 3 7 3 2 8',
    '7 0 3 9 4 9 6 6 6 3 7 8 5 8 7 7 8 6 6 7 5 8 7 8 a',
    '5 6 8 4 6 4 4 1 4 2 3 6 6 8 4 4 5 6 2 6 8 6 6 7 7',
    '4 7 7 6 7 1 2 3 2 4 5 3 6 7 6 6 6 3 3 a 3 4 6 8 3',
    '6 7 8 7 7 b 7 6 7 5 5 4 6 8 5 6 7 b 3 6 7 5 7 7 8',
    '5 2 7 7 4 3 5 5 5 4 4 7 2 3 4 6 7 3 5 7 6 7 6 5 8',
    '5 6 7 8 7 5 4 6 7 4 5 6 4 6 5 6 6 4 5 5 4 5 5 3 7',
    '6 7 7 9 8 5 1 4 a 5 3 7 3 6 7 5 5 6 4 5 5 5 6 4 a',
    'a 0 5 b 1 8 5 6 7 4 5 9 7 9 5 7 9 4 5 7 6 a 9 6 a',
    '4 5 8 4 a 4 5 3 6 3 6 7 4 4 5 6 6 6 6 7 5 5 7 6 8',
    '5 7 6 5 7 6 1 4 7 6 3 6 3 6 5 5 6 7 4 5 6 5 8 4 6',
    '4 3 5 6 7 4 7 5 7 3 7 5 3 6 6 7 7 4 a 8 8 8 4 7 9',
    '4 4 8 6 a 2 5 3 8 7 5 7 4 4 7 7 6 8 9 a a 5 6 7 b',
    '5 3 5 8 8 4 3 2 9 6 5 5 5 5 5 6 8 9 9 8 7 7 a 7 a',
    '6 0 4 8 6 6 8 6 5 3 6 6 5 8 9 8 8 4 b a 6 7 7 8 a',
    '6 1 7 6 6 3 4 2 7 6 6 5 6 4 5 7 7 5 7 8 6 7 7 7 7',
    '6 0 5 8 4 4 6 4 6 3 5 b 6 7 6 7 a 5 8 9 5 9 6 8 a',
    '4 9 7 5 9 7 5 4 6 4 5 5 4 6 4 7 7 6 6 8 6 4 7 5 a',
    '6 3 6 7 8 3 6 6 7 5 6 5 5 6 4 7 7 4 6 6 7 7 6 4 7',
    '5 4 8 7 5 7 5 4 b 5 5 6 6 6 7 7 6 9 4 8 a 5 a 5 b',
]

PANELS = [PANEL_1, PANEL_2, PANEL_3, PANEL_4, PANEL_5, PANEL_6, PANEL_7, PANEL_8]
PANEL_WIDTHS = [32, 32, 32, 32, 32, 32, 32, 25]

CELL = 12
TOP = 91
BAND_TOP, BAND_BOTTOM = 3, 66
MONO = 'DejaVu Sans Mono'


def build_matrix():
    # glue the panels side by side, note any row that came out the wrong length
    problems = []
    rows = []
    for r in range(len(GENES)):
        row = []
        for p, panel in enumerate(PANELS):
            cells = panel[r].split()
            if len(cells) != PANEL_WIDTHS[p]:
                problems.append('panel {} row {} has {}'.format(p + 1, r, len(cells)))
                cells = (cells + ['5'] * PANEL_WIDTHS[p])[:PANEL_WIDTHS[p]]
            row += [int(c, 16) for c in cells]
        rows.append(row)
    return np.array(rows), problems


def main():
    levels, problems = build_matrix()
    n_rows, n_cols = levels.shape

    fig = plt.figure(figsize=(30.95, 5.48), dpi=100)
    ax = fig.add_axes([0, 0, 1, 1])
    ax.set_xlim(0, 3095)
    ax.set_ylim(548, 0)
    ax.axis('off')

    x_edges = CELL * np.arange(n_cols + 1)
    y_edges = TOP + CELL * np.arange(n_rows + 1)

    ax.pcolormesh(x_edges, y_edges, levels, cmap=ListedColormap(LEVEL_COLORS), vmin=-0.5, vmax=11.5,
                  antialiased=False)

    # sample class band above the heat map
    groups = np.array([[0 if i < N_GRAY else 1 for i in range(n_cols)]])
    ax.pcolormesh(x_edges, [BAND_TOP, BAND_BOTTOM], groups, cmap=ListedColormap(GROUP_COLORS), vmin=0, vmax=1,
                  antialiased=False)

    ax.vlines(x_edges + 0.5, 0, y_edges[-1] + 0.5, color='k', lw=0.72, antialiased=False)
    ax.hlines(y_edges + 0.5, 0, 3095, color='k', lw=0.72, antialiased=False)

    for i, name in enumerate(SAMPLES):
        ax.text(x_edges[i] + 7, 62.5, '"{}"'.format(name), rotation=90, ha='center', va='bottom',
                family=MONO, fontsize=8.5, color='k')

    ax.text(2998, 78, 'SampleName', ha='left', va='baseline', family=MONO, fontsize=10.5, color='k')
    for r, gene in enumerate(GENES):
        ax.text(2998, y_edges[r + 1] + 0.5, gene, ha='left', va='baseline', family=MONO, fontsize=8.2, color='k')

    fig.savefig('out.png', dpi=100)

    if len(SAMPLES) != n_cols or problems:
        raise ValueError('{} samples, {} cols; {}'.format(len(SAMPLES), n_cols, problems))


if __name__ == '__main__':
    main()
